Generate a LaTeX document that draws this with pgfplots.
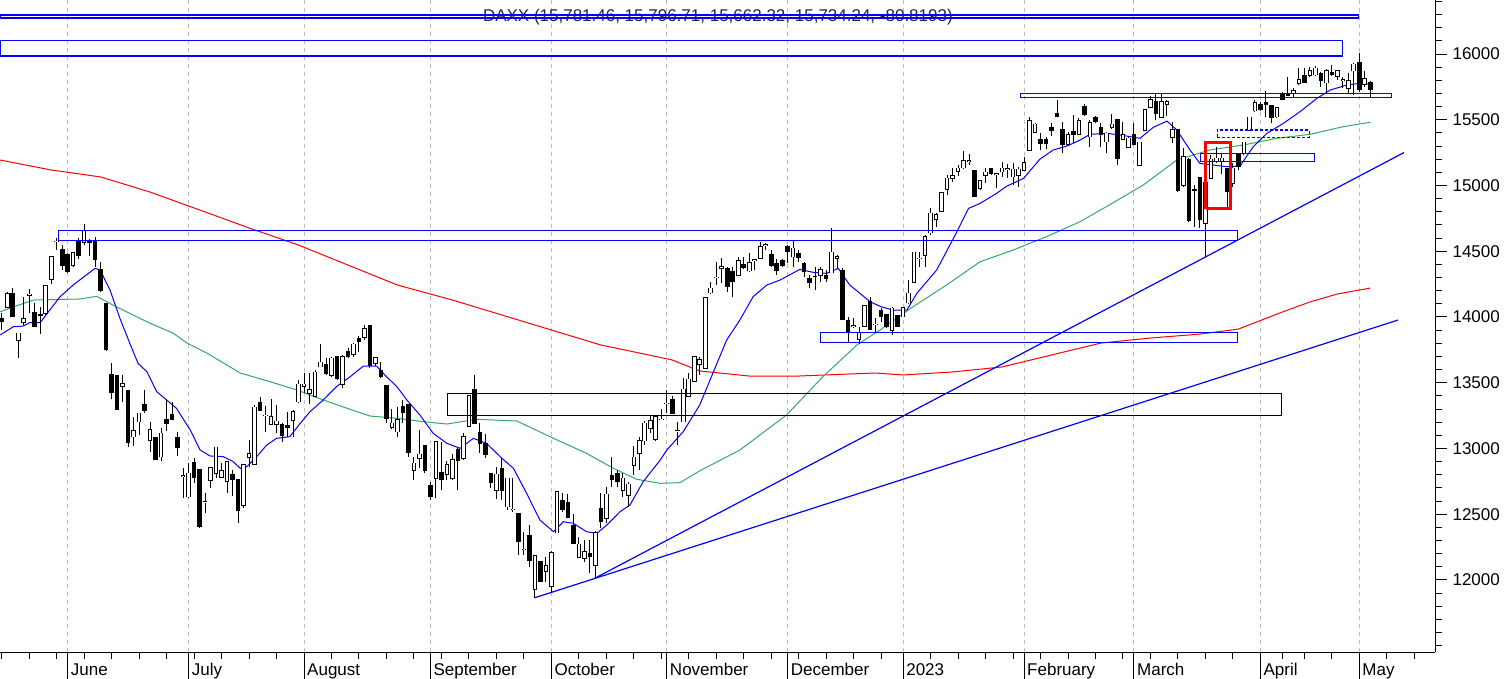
\documentclass[border=0pt]{standalone}
\usepackage{fontspec}
\setmainfont{Liberation Sans}
\usepackage{graphicx}
\usepackage{pgfplots}
\usepackage{pgfplotstable}
\pgfplotsset{compat=1.18}
\definecolor{magreen}{RGB}{50,170,100}
\definecolor{gridgray}{RGB}{190,190,190}
\tikzset{monthlab/.style={anchor=base west, inner sep=0pt, font=\fontsize{17}{20}\selectfont, xshift=3pt, yshift=-23pt}}

\pgfplotstableread{
i o h l c
-12 13990 14028 13901 13964
-11 14073 14192 14066 14175
-10 14175 14218 13997 14007
-9 13825 13876 13685 13876
-8 13959 14154 13939 13985
-7 14165 14210 14028 14172
-6 14035 14104 13926 13926
-5 14016 14078 13868 14014
-4 14028 14243 14015 14236
-3 14286 14464 14251 14459
-2 14573 14598 14509 14575
-1 14509 14547 14357 14390
0 14471 14484 14337 14345
1 14393 14497 14383 14489
2 14580 14598 14438 14466
3 14568 14707 14547 14656
4 14570 14590 14464 14568
5 14580 14606 14383 14441
6 14357 14416 14192 14205
7 14099 14099 13744 13756
8 13559 13647 13376 13424
9 13551 13551 13293 13300
10 13475 13559 13356 13490
11 13437 13437 13014 13044
12 13090 13242 13021 13133
13 13204 13267 13102 13267
14 13331 13445 13272 13293
15 13064 13204 12971 13140
16 13085 13085 12912 12917
17 12938 13158 12907 13115
18 13216 13374 13133 13191
19 13255 13356 13216 13224
20 13085 13123 12943 13006
21 12790 12849 12626 12791
22 12633 12887 12626 12811
23 12894 12930 12735 12778
24 12841 12841 12398 12410
25 12595 12664 12512 12596
26 12760 12862 12702 12854
27 12811 13014 12773 13009
28 12780 12887 12780 12831
29 12753 12900 12659 12900
30 12798 12836 12638 12765
31 12760 12760 12436 12532
32 12570 12874 12545 12874
33 12933 13064 12862 12958
34 12882 13331 12874 13313
35 13351 13394 13287 13287
36 13252 13323 13128 13253
37 13183 13374 13178 13242
38 13186 13331 13120 13206
39 13178 13191 13052 13097
40 13171 13280 13085 13161
41 13214 13293 13090 13280
42 13356 13521 13343 13488
43 13473 13576 13419 13488
44 13419 13576 13336 13445
45 13399 13597 13399 13579
46 13622 13792 13622 13655
47 13635 13685 13559 13571
48 13559 13698 13546 13685
49 13698 13703 13521 13533
50 13490 13711 13457 13698
51 13736 13761 13685 13698
52 13716 13800 13698 13792
53 13838 13855 13736 13812
54 13845 13939 13825 13908
55 13931 13939 13609 13635
56 13647 13698 13627 13690
57 13589 13660 13533 13546
58 13475 13475 13191 13229
59 13161 13298 13145 13191
60 13128 13313 13090 13216
61 13318 13369 13191 13272
62 13331 13331 12938 12968
63 12836 12938 12760 12887
64 12925 13140 12849 12955
65 13019 13019 12811 12831
66 12715 12748 12608 12633
67 12773 13057 12621 13052
68 12818 13052 12684 12765
69 12806 12907 12760 12874
70 12773 12958 12760 12912
71 12988 13014 12684 12912
72 12925 13115 12912 13090
73 13171 13399 13166 13399
74 13450 13559 13191 13191
75 13123 13191 12963 13039
76 13039 13110 12925 12958
77 12811 12811 12697 12740
78 12684 12862 12613 12803
79 12844 12930 12608 12679
80 12557 12773 12532 12773
81 12537 12773 12519 12538
82 12507 12512 12190 12291
83 12233 12367 12190 12234
84 12334 12418 12101 12152
85 11929 12190 11860 12185
86 12139 12139 11987 11987
87 12068 12177 11987 12109
88 11954 12220 11898 12208
89 12360 12676 12360 12671
90 12603 12659 12519 12537
91 12590 12651 12469 12474
92 12413 12499 12271 12279
93 12172 12329 12170 12271
94 12164 12304 12139 12215
95 12202 12304 12050 12177
96 12114 12372 12012 12360
97 12540 12659 12393 12443
98 12469 12710 12431 12651
99 12791 12938 12710 12765
100 12811 12836 12710 12748
101 12684 12811 12634 12773
102 12646 12748 12557 12727
103 12874 13019 12798 12932
104 12963 13085 12836 13057
105 13059 13211 13026 13191
106 13153 13247 13120 13211
107 13072 13255 13057 13242
108 13221 13298 13216 13222
109 13343 13445 13267 13344
110 13368 13401 13262 13267
111 13135 13204 13026 13136
112 13204 13533 13204 13450
113 13399 13571 13394 13526
114 13513 13703 13508 13698
115 13642 13698 13559 13673
116 13609 14154 13604 14147
117 14185 14268 14175 14218
118 14301 14421 14243 14302
119 14370 14446 14256 14383
120 14370 14383 14192 14236
121 14345 14383 14149 14268
122 14319 14459 14312 14428
123 14400 14459 14362 14375
124 14352 14484 14345 14413
125 14433 14434 14357 14434
126 14446 14568 14441 14535
127 14547 14565 14509 14548
128 14476 14509 14383 14390
129 14408 14438 14319 14352
130 14426 14438 14383 14395
131 14535 14547 14408 14497
132 14459 14580 14383 14522
133 14479 14509 14421 14451
134 14403 14421 14306 14345
135 14294 14319 14218 14261
136 14307 14383 14205 14306
137 14319 14383 14268 14357
138 14311 14357 14268 14294
139 14337 14674 14337 14491
140 14446 14471 14370 14459
141 14350 14370 13985 13985
142 13969 14002 13805 13888
143 13931 13990 13914 13932
144 13830 13926 13794 13883
145 13931 14091 13926 14086
146 14116 14149 13901 13908
147 13944 13990 13888 13945
148 14048 14066 13964 14002
149 14015 14015 13914 13926
150 13901 14078 13863 14066
151 14007 14015 13926 13931
152 14002 14078 13997 14071
153 14109 14281 14099 14180
154 14263 14492 14263 14492
155 14446 14497 14383 14447
156 14471 14623 14383 14611
157 14641 14826 14623 14788
158 14743 14788 14687 14776
159 14806 14953 14801 14945
160 14971 15080 14928 15054
161 15054 15130 15029 15075
162 15110 15156 15072 15130
163 15136 15262 15123 15186
164 15186 15239 15156 15187
165 15110 15110 14910 14920
166 14978 15042 14966 15034
167 15080 15130 15021 15100
168 15130 15136 15080 15092
169 15087 15092 14978 15088
170 15105 15181 15067 15130
171 15120 15160 15060 15125
172 15067 15168 15004 15123
173 15080 15143 14991 15123
174 15118 15219 15113 15174
175 15270 15518 15265 15493
176 15404 15473 15397 15465
177 15351 15402 15270 15321
178 15351 15371 15275 15321
179 15442 15478 15376 15417
180 15549 15650 15518 15523
181 15427 15485 15250 15316
182 15316 15409 15308 15384
183 15409 15536 15321 15389
184 15389 15511 15384 15493
185 15599 15620 15528 15544
186 15371 15498 15295 15478
187 15518 15528 15478 15485
188 15440 15473 15295 15392
189 15333 15409 15245 15397
190 15442 15541 15427 15465
191 15498 15503 15156 15206
192 15354 15485 15346 15384
193 15290 15371 15283 15359
194 15389 15478 15308 15316
195 15156 15333 15148 15328
196 15422 15582 15417 15574
197 15594 15680 15587 15650
198 15637 15706 15498 15549
199 15518 15701 15511 15637
200 15617 15650 15528 15635
201 15366 15485 15321 15422
202 15427 15427 14953 14966
203 15004 15283 14991 15219
204 15200 15210 14725 14732
205 14966 15004 14687 14965
206 15062 15067 14674 14740
207 14714 15257 14460 15020
208 15054 15232 15054 15199
209 15181 15290 15168 15206
210 15181 15237 15087 15206
211 15130 15130 14834 14958
212 15020 15170 14990 15130
213 15239 15250 15118 15143
214 15244 15333 15232 15328
215 15422 15523 15417 15518
216 15569 15650 15561 15630
217 15617 15637 15569 15579
218 15632 15721 15523 15617
219 15604 15612 15478 15518
220 15523 15599 15511 15592
221 15696 15713 15650 15655
222 15701 15822 15680 15688
223 15706 15744 15675 15721
224 15777 15891 15764 15802
225 15835 15896 15777 15782
226 15840 15904 15828 15873
227 15843 15909 15835 15891
228 15853 15866 15752 15802
229 15782 15883 15713 15871
230 15858 15916 15833 15848
231 15833 15878 15802 15871
232 15802 15828 15739 15805
233 15739 15858 15701 15795
234 15873 15929 15688 15921
235 15937 16010 15713 15731
236 15772 15873 15752 15810
237 15781.46 15796.71 15662.32 15734.24
}\candles

\begin{document}
\begin{tikzpicture}
\useasboundingbox (0,0) rectangle (1506pt,-679pt);
\begin{axis}[
  at={(0,0)}, anchor=north west,
  scale only axis, width=1435pt, height=652pt,
  xmin=-12.318, xmax=248.78, ymin=11452, ymax=16411,
  axis x line=bottom, axis y line=right,
  axis line style={-, black, line width=1pt},
  tick align=outside,
  xtick={0,22,43,66,88,109,131,152,174,194,217,235},
  xticklabels={},
  minor xtick={-12,-7,-2,3,8,13,18,23,28,33,38,43,48,53,58,63,68,73,78,83,88,93,98,103,108,113,118,123,128,133,138,143,148,152,157,162,167,172,177,182,187,192,197,202,207,212,217,221,225,230,235,240,245},
  ytick={12000,12500,13000,13500,14000,14500,15000,15500,16000},
  minor ytick={11500,11600,11700,11800,11900,12100,12200,12300,12400,12600,12700,12800,12900,13100,13200,13300,13400,13600,13700,13800,13900,14100,14200,14300,14400,14600,14700,14800,14900,15100,15200,15300,15400,15600,15700,15800,15900,16100,16200,16300,16400},
  scaled y ticks=false,
  major tick length=12pt, minor tick length=7pt,
  tick style={black, line width=1pt},
  xmajorgrids,
  major grid style={draw=gridgray, dash pattern=on 4pt off 4pt, line width=1pt},
  yticklabel style={font=\fontsize{17}{20}\selectfont, anchor=west, xshift=2pt, /pgf/number format/fixed, /pgf/number format/precision=0},
  /pgf/number format/1000 sep={},
  /pgf/number format/assume math mode=true,
  clip=false,
]
% title
\node[font=\fontsize{17}{20}\selectfont, text=black!85, inner sep=0pt] at (axis cs:118.3,16281) {DAXX (15,781.46, 15,796.71, 15,662.32, 15,734.24, -80.8193)};

% moving averages
\addplot[red, line width=1pt, mark=none] coordinates {
(-12.3,15194) (-3,15118) (6,15065) (15,14950) (24,14814) (33,14677) (42,14547) (51,14395) (60,14243) (70,14129) (79,14015) (88,13901) (97,13787) (104,13726) (110,13673) (115,13589) (124,13551) (133,13551) (142,13566) (147,13574) (152,13559) (161,13582) (170,13620) (179,13711) (188,13802) (197,13840) (206,13870) (213,13908) (221,14038) (226,14114) (231,14175) (237,14220)};
\addplot[magreen, line width=1pt, mark=none] coordinates {
(-12.3,14040) (-6.3,14129) (2.2,14137) (5.3,14157) (8.2,14091) (15,13952) (19.2,13877) (21.7,13802) (25.3,13726) (31.4,13574) (36.8,13508) (41.7,13445) (46.5,13369) (50.8,13306) (55,13247) (59.9,13229) (64.7,13204) (69,13186) (74.4,13222) (81.7,13209) (88.4,13077) (94.4,12963) (99.3,12849) (103.5,12766) (107.8,12735) (111.4,12740) (115,12830) (122.3,12988) (130.8,13255) (137.4,13546) (143.6,13787) (147.8,13901) (153.8,14078) (159.9,14243) (166,14420) (172,14509) (178.1,14611) (184.2,14725) (189.8,14859) (195.7,15004) (201.8,15194) (207.8,15270) (213.9,15308) (220,15359) (226,15389) (232,15447) (237,15481)};
\addplot[blue, line width=1pt, mark=none] coordinates {
(-12.3,13863) (-9.9,13926) (-8.1,13931) (-6.9,13957) (-5,13957) (-3.5,14040) (-1.4,14154) (1,14243) (2.8,14301) (5,14370) (5.9,14357) (7.7,14205) (9.5,13990) (11.3,13800) (12.8,13647) (14.4,13584) (16.2,13432) (18,13369) (19.8,13305) (22.3,13140) (24.1,12988) (25.9,12943) (28.3,12938) (30.1,12900) (31.4,12849) (32.6,12862) (34.4,12938) (36.2,13026) (38,13077) (40.4,13090) (42.3,13191) (44.1,13280) (46.5,13369) (48.9,13470) (51.4,13546) (53.8,13627) (56.2,13627) (58,13546) (59.9,13470) (61.7,13369) (64.1,13254) (66.5,13115) (69,13039) (71.4,13001) (73.8,13077) (76.2,13039) (79,12925) (81.1,12849) (83.5,12659) (85.9,12456) (88.4,12367) (90.2,12443) (92,12431) (94.4,12367) (96.3,12355) (98.1,12418) (100.5,12519) (102.3,12570) (104.7,12747) (107.8,12912) (109,12988) (112,13128) (115,13331) (117.5,13584) (119.9,13825) (122.3,13977) (124.7,14154) (127.2,14243) (129.6,14281) (133.2,14362) (135.7,14339) (138.1,14332) (140.2,14370) (142.3,14243) (146,14116) (148,14078) (150.2,14053) (152.7,14053) (154.5,14180) (158.1,14357) (161.8,14649) (163.9,14826) (166,14864) (169,14940) (170.9,14996) (173.9,15054) (176.9,15201) (179.3,15270) (181.8,15300) (184.2,15346) (186,15389) (189,15397) (191.5,15384) (195.1,15359) (197.5,15442) (200,15490) (201.8,15422) (204.2,15270) (206,15168) (208.4,15156) (210.9,15143) (213.3,15148) (215.7,15295) (218.2,15397) (221.2,15473) (224.2,15561) (227.3,15663) (229.7,15726) (232.7,15764) (235.1,15777) (237,15772)};

% candles: wicks, body outlines, white bodies
\addplot[black, line width=1pt, mark=none, quiver={u=0, v={\thisrow{h}-\thisrow{l}}}] table[x=i, y=l] {\candles};
\addplot[black, line width=4.6pt, mark=none, quiver={u=0, v={abs(\thisrow{c}-\thisrow{o})+10}}] table[x=i, y expr={min(\thisrow{o},\thisrow{c})-5}] {\candles};
\addplot[white, line width=2.6pt, mark=none, quiver={u=0, v={max(\thisrow{c}-\thisrow{o},0)}}] table[x=i, y=o] {\candles};

% zones
\addplot[blue, line width=1.1pt, mark=none] coordinates {(-12.318,16274) (234.8,16274) (234.8,16297) (-12.318,16297) (-12.318,16274)};
\addplot[blue, line width=1.1pt, mark=none] coordinates {(-12.318,15985) (231.9,15985) (231.9,16106) (-12.318,16106) (-12.318,15985)};
\addplot[blue, line width=1.1pt, mark=none] coordinates {(-1.7,14585) (212.9,14585) (212.9,14661) (-1.7,14661) (-1.7,14585)};
\addplot[blue, line width=1.1pt, mark=none] coordinates {(136.9,13807) (212.8,13807) (212.8,13883) (136.9,13883) (136.9,13807)};
\addplot[black, line width=1pt, mark=none] coordinates {(69.1,13254) (220.8,13254) (220.8,13419) (69.1,13419) (69.1,13254)};
\addplot[blue, line width=1.1pt, mark=none] coordinates {(173.3,15671) (240.8,15671) (240.8,15701) (173.3,15701) (173.3,15671)};
\addplot[blue, line width=1.1pt, mark=none] coordinates {(206.1,15181) (226.8,15181) (226.8,15245) (206.1,15245) (206.1,15181)};
\addplot[blue, line width=1.1pt, mark=none, dash pattern=on 3pt off 2pt] coordinates {(209.2,15366) (225.9,15366) (225.9,15422) (209.2,15422) (209.2,15366)};
% trendlines
\addplot[blue, line width=1.2pt, mark=none] coordinates {(85.0,11865) (242.05,13977)};
\addplot[blue, line width=1.2pt, mark=none] coordinates {(95.9,12013) (243.15,15251)};
% red box
\addplot[red, line width=3pt, mark=none] coordinates {(207.1,14825) (211.6,14825) (211.6,15330) (207.1,15330) (207.1,14825)};

% month ticks and labels
\pgfplotsinvokeforeach{0,22,43,66,88,109,131,152,174,194,217,235}{
  \draw[black, line width=1pt] (axis cs:#1,11452) -- ++(0pt,-27pt);
}
\node[monthlab] at (axis cs:0,11452) {June};
\node[monthlab] at (axis cs:22,11452) {July};
\node[monthlab] at (axis cs:43,11452) {August};
\node[monthlab] at (axis cs:66,11452) {September};
\node[monthlab] at (axis cs:88,11452) {October};
\node[monthlab] at (axis cs:109,11452) {November};
\node[monthlab] at (axis cs:131,11452) {December};
\node[monthlab] at (axis cs:152,11452) {2023};
\node[monthlab] at (axis cs:174,11452) {February};
\node[monthlab] at (axis cs:194,11452) {March};
\node[monthlab] at (axis cs:217,11452) {April};
\node[monthlab] at (axis cs:235,11452) {May};
\end{axis}
\end{tikzpicture}
\end{document}
